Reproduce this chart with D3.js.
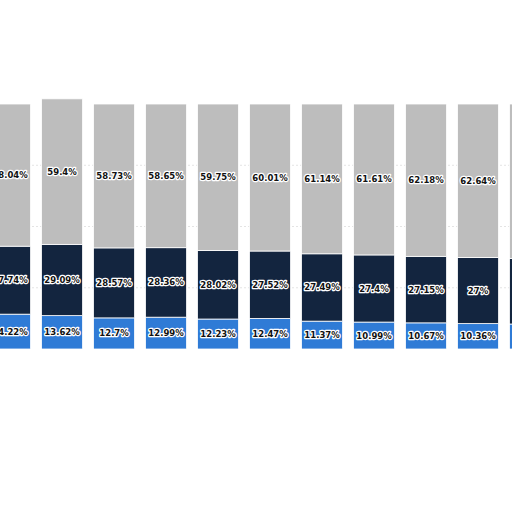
<!DOCTYPE html>
<html><head><meta charset="utf-8">
<script src="https://cdn.jsdelivr.net/npm/d3@7"></script>
<style>body{margin:0;background:#fff}</style></head>
<body><svg id="c" width="512" height="512"></svg>
<script>
const categories = ["c1","c2","c3","c4","c5","c6","c7","c8","c9","c10","c11"];
const blueVals = [14.22,13.62,12.7,12.99,12.23,12.47,11.37,10.99,10.67,10.36,10.2];
const navyVals = [27.74,29.09,28.57,28.36,28.02,27.52,27.49,27.4,27.15,27,26.8];
const grayVals = [58.04,59.4,58.73,58.65,59.75,60.01,61.14,61.61,62.18,62.64,63.0];
const seriesNames = ["blue","navy","gray"];
const colors = {blue:"#2f7bd6", navy:"#13253f", gray:"#bdbdbd"};

const data = categories.map((c,i)=>({cat:c, blue:blueVals[i], navy:navyVals[i], gray:grayVals[i]}));
const svg = d3.select("#c");
const x = d3.scaleBand().domain(categories).range([-21.4,561.5]).padding(0.21);
const y = d3.scaleLinear().domain([0,100]).range([349,104]);

// faint grid
svg.selectAll(".g").data([25,50,75]).enter().append("line")
 .attr("x1",0).attr("x2",512).attr("y1",d=>y(d)).attr("y2",d=>y(d))
 .attr("stroke","#e4e4e4").attr("stroke-dasharray","2,2");

const stack = d3.stack().keys(seriesNames)(data);
const layers = svg.selectAll(".layer").data(stack).enter().append("g")
 .attr("fill",d=>colors[d.key]);
layers.selectAll("rect").data(d=>d).enter().append("rect")
 .attr("x",d=>x(d.data.cat)).attr("width",x.bandwidth())
 .attr("y",d=>y(d[1])).attr("height",d=>y(d[0])-y(d[1]))
 .attr("stroke","#fff").attr("stroke-width",0.8);

stack.forEach(layer=>{
 const g = svg.append("g");
 layer.forEach(d=>{
  const v = d.data[layer.key];
  const t = g.append("text").attr("x",x(d.data.cat)+x.bandwidth()/2)
   .attr("y",(y(d[0])+y(d[1]))/2+3).attr("text-anchor","middle")
   .attr("font-family","DejaVu Sans").attr("font-size",8.5).attr("font-weight","bold")
   .text(v+"%");
  t.clone(true).lower();
  t.attr("fill","#111");
 });
 g.selectAll("text:first-child");
});
svg.selectAll("text").each(function(d,i){});
// halos: the lowered clones get white stroke
svg.selectAll("g > text").filter(function(){return !this.getAttribute("fill");})
 .attr("fill","#fff").attr("stroke","#fff").attr("stroke-width",2.5).attr("stroke-linejoin","round");
</script></body></html>
